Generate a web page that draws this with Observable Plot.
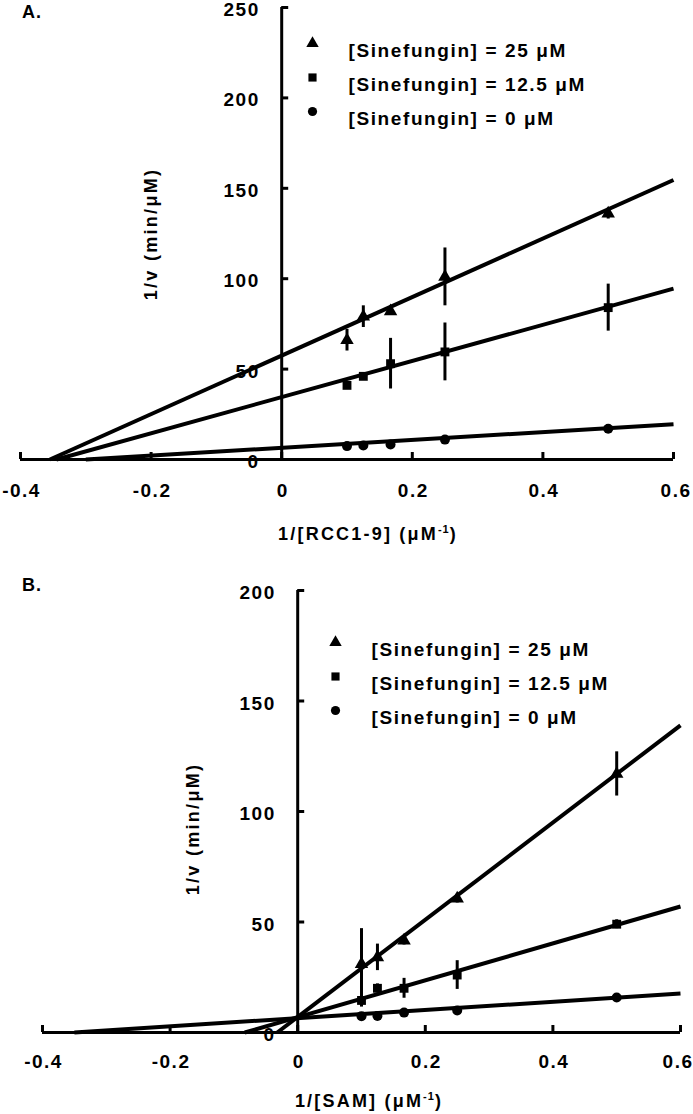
<!DOCTYPE html>
<html><head><meta charset="utf-8">
<script src="https://cdn.jsdelivr.net/npm/d3@7"></script>
<script src="https://cdn.jsdelivr.net/npm/@observablehq/plot@0.6"></script>
<style>
body{margin:0;background:#fff;}
#root{position:relative;width:693px;height:1114px;overflow:hidden;font-family:"Liberation Sans",Arial,sans-serif;font-weight:bold;color:#000;}
#root svg{display:block;}
.lbl{position:absolute;font-size:18px;letter-spacing:1px;white-space:nowrap;line-height:1;}
.ytitle{position:absolute;font-size:18px;letter-spacing:2.3px;white-space:nowrap;line-height:1;transform:translate(-50%,-50%) rotate(-90deg);}
.xtitle{position:absolute;font-size:18px;letter-spacing:2.2px;white-space:nowrap;line-height:1;transform:translate(-50%,-50%);}
sup{font-size:11px;vertical-align:7px;letter-spacing:1px;}
</style></head>
<body><div id="root"></div>
<script>
// ---- data ----
const xVals = [0.1, 0.125, 0.1667, 0.25, 0.5];
const seriesNames = ["[Sinefungin] = 25 μM", "[Sinefungin] = 12.5 μM", "[Sinefungin] = 0 μM"];
const seriesSymbols = ["triangle", "square", "circle"];

// Panel A: 1/v vs 1/[RCC1-9]
const aTri = [66, 79, 82, 101, 136];
const aTriErr = [6, 6, 2, 16, 3];
const aSq = [41, 46, 53, 59.5, 84];
const aSqErr = [2, 2, 14, 16, 13];
const aCir = [7.4, 7.7, 8.3, 11, 17];
const aCirErr = [1, 1, 1, 1, 1];
const aFitStartX = [-0.355, -0.345, -0.3];
const aFitEndY = [154.6, 94.5, 19.5];

// Panel B: 1/v vs 1/[SAM]
const bTri = [31, 34, 41.6, 60.6, 117];
const bTriErr = [16, 6, 2, 2, 10];
const bSq = [14.5, 20, 20, 26, 49];
const bSqErr = [3, 2, 4.5, 6.5, 2];
const bCir = [7.4, 7.5, 9, 10, 15.8];
const bCirErr = [1, 1, 1, 1, 1];
const bFitStartX = [-0.032, -0.083, -0.35];
const bFitEndY = [139, 57, 17.6];

const fitEndX = 0.6;
const xTicks = [-0.4, -0.2, 0, 0.2, 0.4, 0.6];
const xTickLabels = ["-0.4", "-0.2", "0", "0.2", "0.4", "0.6"];
const aYTicks = [0, 50, 100, 150, 200, 250];
const bYTicks = [0, 50, 100, 150, 200];

const FONT = '"Liberation Sans", Arial, sans-serif';

function points(ys, errs, si) {
  return xVals.map((x, i) => ({x, y: ys[i], e: errs[i], s: si}));
}
function fits(startX, endY) {
  return startX.map((x1, i) => ({x1, y1: 0, x2: fitEndX, y2: endY[i], s: i}));
}

function panel(o) {
  const pts = [...points(o.tri, o.triErr, 0), ...points(o.sq, o.sqErr, 1), ...points(o.cir, o.cirErr, 2)];
  const lines = fits(o.fitX, o.fitY);
  const legendMarks = [];
  seriesNames.forEach((name, i) => {
    legendMarks.push(Plot.dot([name], {frameAnchor: "top-left", dx: o.legDx, dy: o.legDy + i * o.legStep, symbol: seriesSymbols[i], r: 4.6, fill: "black", stroke: "none"}));
    legendMarks.push(Plot.text([name], {text: d => d, frameAnchor: "top-left", dx: o.legDx + 36, dy: o.legDy + i * o.legStep, textAnchor: "start", fontSize: 19, fontWeight: "bold", fill: "black", className: "leg"}));
  });
  const xl = xTicks.slice(0, -1), xlLast = xTicks.slice(-1);
  return Plot.plot({
    width: 693, height: o.height,
    marginLeft: o.ml, marginRight: o.mr, marginTop: o.mt, marginBottom: o.mb,
    x: {domain: [-0.4, 0.6], axis: null},
    y: {domain: [0, o.ymax], axis: null},
    style: {background: "white", overflow: "visible", fontFamily: FONT},
    marks: [
      Plot.text(o.yTicks, {x: 0, y: d => d, text: d => String(d), textAnchor: "end", dx: -22, dy: 2.5, fontSize: 19, fontWeight: "bold", fill: "black", className: "ylab"}),
      Plot.text(xl, {x: d => d, y: 0, text: d => xTickLabels[xTicks.indexOf(d)], dy: o.xlabDy, dx: 1, fontSize: 19, fontWeight: "bold", fill: "black", className: "xlab"}),
      Plot.text(xlLast, {x: d => d, y: 0, text: d => xTickLabels[xTicks.indexOf(d)], dy: o.xlabDy, dx: o.lastDx, textAnchor: "end", fontSize: 19, fontWeight: "bold", fill: "black", className: "xlab"}),
      Plot.ruleX(pts, {x: "x", y1: d => d.y - d.e, y2: d => d.y + d.e, stroke: "black", strokeWidth: 3}),
      Plot.link(lines, {x1: "x1", y1: "y1", x2: "x2", y2: "y2", stroke: "black", strokeWidth: 4}),
      Plot.dot(pts, {x: "x", y: "y", symbol: d => seriesSymbols[d.s], r: 5, fill: "black", stroke: "none"}),
      Plot.ruleY([0], {stroke: "black", strokeWidth: 3}),
      Plot.ruleX([0], {stroke: "black", strokeWidth: 3}),
      Plot.ruleX(xTicks, {x: d => d, y1: 0, y2: 0, insetBottom: 7, stroke: "black", strokeWidth: 3}),
      Plot.ruleY(o.yTicks, {y: d => d, x1: 0, x2: 0, insetRight: -7, stroke: "black", strokeWidth: 3}),
      ...legendMarks
    ],
    symbol: {type: "identity"}
  });
}

const root = document.getElementById("root");
const plotA = panel({height: 560, ml: 20, mr: 20, mt: 7, mb: 101, ymax: 250, yTicks: aYTicks, xlabDy: 31, lastDx: 18,
  tri: aTri, triErr: aTriErr, sq: aSq, sqErr: aSqErr, cir: aCir, cirErr: aCirErr, fitX: aFitStartX, fitY: aFitEndY,
  legDx: 292, legDy: 36, legStep: 34});
const plotB = panel({height: 554, ml: 42, mr: 13, mt: 30, mb: 82, ymax: 200, yTicks: bYTicks, xlabDy: 29, lastDx: 13,
  tri: bTri, triErr: bTriErr, sq: bSq, sqErr: bSqErr, cir: bCir, cirErr: bCirErr, fitX: bFitStartX, fitY: bFitEndY,
  legDx: 293, legDy: 52, legStep: 34});
plotA.style.position = "absolute"; plotA.style.left = "0px"; plotA.style.top = "0px";
plotB.style.position = "absolute"; plotB.style.left = "0px"; plotB.style.top = "560px";
root.appendChild(plotA);
root.appendChild(plotB);
root.querySelectorAll("g.xlab text, g.ylab text").forEach(t => t.style.letterSpacing = "1.5px");
root.querySelectorAll("g.leg text").forEach(t => t.style.letterSpacing = "1.6px");

function addHTML(cls, html, left, top) {
  const d = document.createElement("div");
  d.className = cls; d.innerHTML = html;
  d.style.left = left + "px"; d.style.top = top + "px";
  root.appendChild(d);
}
addHTML("lbl", "A.", 22, 3);
addHTML("lbl", "B.", 22, 576);
addHTML("ytitle", "1/v (min/μM)", 151, 234);
addHTML("ytitle", "1/v (min/μM)", 193, 829);
addHTML("xtitle", "1/[RCC1-9] (μM<sup>-1</sup>)", 368, 533);
addHTML("xtitle", "1/[SAM] (μM<sup>-1</sup>)", 369, 1100);
</script>
</body></html>
